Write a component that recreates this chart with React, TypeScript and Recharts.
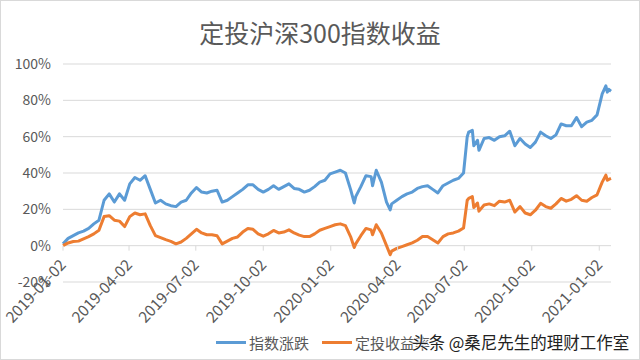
import React from 'react';
import { LineChart, Line, XAxis, YAxis, CartesianGrid } from 'recharts';

const title = '定投沪深300指数收益';
const seriesNames = ['指数涨跌', '定投收益率'];
const seriesColors = ['#5B9BD5', '#ED7D31'];
const watermark = '头条 @桑尼先生的理财工作室';

const dates = [
  '2019-01-02', '2019-01-09', '2019-01-16', '2019-01-23', '2019-01-30', '2019-02-06', '2019-02-13', '2019-02-20',
  '2019-02-27', '2019-03-06', '2019-03-13', '2019-03-20', '2019-03-27', '2019-04-03', '2019-04-10', '2019-04-17',
  '2019-04-24', '2019-05-01', '2019-05-08', '2019-05-15', '2019-05-22', '2019-05-29', '2019-06-05', '2019-06-12',
  '2019-06-19', '2019-06-26', '2019-07-03', '2019-07-10', '2019-07-17', '2019-07-24', '2019-07-31', '2019-08-07',
  '2019-08-14', '2019-08-21', '2019-08-28', '2019-09-04', '2019-09-11', '2019-09-18', '2019-09-25', '2019-10-02',
  '2019-10-09', '2019-10-16', '2019-10-23', '2019-10-30', '2019-11-06', '2019-11-13', '2019-11-20', '2019-11-27',
  '2019-12-04', '2019-12-11', '2019-12-18', '2019-12-25', '2020-01-01', '2020-01-08', '2020-01-15', '2020-01-22',
  '2020-01-29', '2020-02-03', '2020-02-05', '2020-02-12', '2020-02-19', '2020-02-26', '2020-02-28', '2020-03-04',
  '2020-03-11', '2020-03-18', '2020-03-23', '2020-03-25', '2020-04-01', '2020-04-08', '2020-04-15', '2020-04-22',
  '2020-04-29', '2020-05-06', '2020-05-13', '2020-05-20', '2020-05-27', '2020-06-03', '2020-06-10', '2020-06-17',
  '2020-06-24', '2020-07-01', '2020-07-06', '2020-07-08', '2020-07-13', '2020-07-15', '2020-07-20', '2020-07-22',
  '2020-07-29', '2020-08-05', '2020-08-12', '2020-08-19', '2020-08-26', '2020-09-02', '2020-09-09', '2020-09-16',
  '2020-09-23', '2020-09-30', '2020-10-07', '2020-10-14', '2020-10-21', '2020-10-28', '2020-11-04', '2020-11-11',
  '2020-11-18', '2020-11-25', '2020-12-02', '2020-12-09', '2020-12-16', '2020-12-23', '2020-12-30', '2021-01-06',
  '2021-01-11', '2021-01-13', '2021-01-15', '2021-01-18',
];

const indexChange = [
  1, 4, 5.5, 7, 8, 9.5, 12, 14,
  25, 28.5, 24, 28.5, 25, 34, 37.5, 36,
  38.5, 31, 23.5, 25, 23, 22, 21.5, 24,
  25, 29, 32, 29.5, 29, 30, 30.5, 24,
  25, 27, 29, 31, 33.5, 33.5, 31, 29.5,
  31, 33, 31, 32.5, 34, 31.5, 31, 29.5,
  30.5, 32.5, 35, 36, 39.5, 40.5, 41.5, 40,
  31, 23.5, 27, 32.5, 38.5, 38, 33, 41.5,
  35, 24, 19.7, 23, 25, 27, 28.5, 29.5,
  31.5, 32.5, 33, 31, 29, 33, 34.5, 36,
  37, 40, 60, 62.5, 63.5, 55, 58, 52.5,
  59, 59.5, 58, 60, 60.5, 63, 55, 59,
  56, 54, 57, 62.5, 60.5, 59, 61, 67,
  66, 66, 70.5, 65.5, 68, 69, 72, 83.5,
  88, 84.5, 86, 85,
];

const dcaReturn = [
  0, 1.5, 2.3, 2.5, 3.8, 5, 6.5, 8.5,
  16, 16.5, 14, 13.5, 10.5, 16, 18, 17,
  17.5, 11, 5.5, 4.4, 3.3, 2.4, 1, 2,
  4, 6.5, 9, 7, 6, 6, 5.5, 1,
  2.5, 4, 4.8, 7.5, 9.5, 9, 6.5, 5.2,
  6.5, 8.4, 7, 7.5, 8.7, 7, 5.8, 5,
  5, 6.5, 8.5, 9.5, 10.5, 11.5, 12, 11,
  5, -1, 1, 5.5, 9.5, 8.7, 6, 11.5,
  7, 0, -5, -3, -1.5, -0.5, 0.5, 1.5,
  3, 5, 5, 3.3, 1.5, 5, 6.5, 7,
  8, 9.7, 25, 26, 27, 21, 23.5, 19,
  22.4, 23, 22, 24.5, 24, 25, 18.5, 21.5,
  18, 17, 19.5, 23.3, 21.5, 20.6, 23, 26,
  24.5, 25.5, 27.5, 25, 24.5, 26.5, 28, 35,
  38.8, 36, 36.5, 37,
];

const xTickLabels = [
  '2019-01-02', '2019-04-02', '2019-07-02', '2019-10-02', '2020-01-02',
  '2020-04-02', '2020-07-02', '2020-10-02', '2021-01-02',
];
const yTicks = [-20, 0, 20, 40, 60, 80, 100];

const toTs = (s: string) => Date.parse(s + 'T00:00:00Z');
const fmtDate = (v: number) => new Date(v).toISOString().slice(0, 10);

const data = dates.map((d, i) => ({ t: toTs(d), a: indexChange[i], b: dcaReturn[i] }));
const xTicks = xTickLabels.map(toTs);

const W = 640;
const H = 360;
const X_AXIS_H = 2;
const M = { top: 64, right: 29, bottom: 78 - X_AXIS_H, left: 0 };
const Y_MIN = -20;
const Y_MAX = 100;
const plotH = H - M.top - M.bottom - X_AXIS_H;
const zeroOffset = (plotH * (0 - Y_MIN)) / (Y_MAX - Y_MIN);

const FONT = "'Noto Sans CJK SC', 'Noto Sans', sans-serif";
const GRID = '#d9d9d9';
const TEXT = '#595959';

function XTick(props: any) {
  const { x, y, payload } = props;
  const y0 = y - zeroOffset;
  const tx = x + 4;
  const ty = y0 + 20;
  return (
    <g>
      <line x1={x} x2={x} y1={y0} y2={y0 + 5} stroke={GRID} />
      <text
        x={tx}
        y={ty}
        transform={`rotate(-47 ${tx} ${ty})`}
        textAnchor="end"
        fill={TEXT}
        fontSize={15.5}
        fontFamily={FONT}
      >
        {fmtDate(payload.value)}
      </text>
    </g>
  );
}

export default function App() {
  return (
    <div
      style={{
        position: 'absolute',
        left: 0,
        top: 0,
        width: W,
        height: H,
        background: '#fff',
        fontFamily: FONT,
        overflow: 'hidden',
      }}
    >
      <div
        style={{
          position: 'absolute',
          top: 17,
          left: 0,
          width: W,
          textAlign: 'center',
          fontSize: 25,
          lineHeight: '30px',
          color: TEXT,
        }}
      >
        {title}
      </div>
      <LineChart width={W} height={H} data={data} margin={M}>
        <CartesianGrid horizontal vertical={false} stroke={GRID} />
        <XAxis
          dataKey="t"
          type="number"
          domain={['dataMin', 'dataMax']}
          ticks={xTicks}
          interval={0}
          height={X_AXIS_H}
          tickSize={0}
          tickMargin={0}
          axisLine={false}
          tickLine={false}
          tick={(p: any) => <XTick {...p} />}
        />
        <YAxis
          width={63}
          domain={[Y_MIN, Y_MAX]}
          ticks={yTicks}
          interval={0}
          axisLine={false}
          tickLine={false}
          tickMargin={6}
          tickFormatter={(v: number) => `${v}%`}
          tick={{ fill: TEXT, fontSize: 14, fontFamily: FONT }}
        />
        <Line
          type="linear"
          dataKey="a"
          name={seriesNames[0]}
          stroke={seriesColors[0]}
          strokeWidth={3}
          dot={false}
          isAnimationActive={false}
          strokeLinejoin="round"
        />
        <Line
          type="linear"
          dataKey="b"
          name={seriesNames[1]}
          stroke={seriesColors[1]}
          strokeWidth={3}
          dot={false}
          isAnimationActive={false}
          strokeLinejoin="round"
        />
      </LineChart>
      <div
        style={{
          position: 'absolute',
          left: 216,
          top: 332,
          height: 20,
          display: 'flex',
          alignItems: 'center',
          fontSize: 15,
          color: TEXT,
        }}
      >
        {seriesNames.map((n, i) => (
          <div key={n} style={{ display: 'flex', alignItems: 'center', marginRight: 13 }}>
            <div style={{ width: 30, height: 3, background: seriesColors[i], marginRight: 3 }} />
            <span>{n}</span>
          </div>
        ))}
      </div>
      <div
        style={{
          position: 'absolute',
          left: 412,
          top: 331,
          fontSize: 16.5,
          lineHeight: '22px',
          color: '#222',
          whiteSpace: 'nowrap',
          textShadow: '0 0 2px #fff, 0 0 2px #fff, 0 0 2px #fff',
        }}
      >
        {watermark}
      </div>
      <div
        style={{
          position: 'absolute',
          left: 0,
          top: 0,
          width: W,
          height: H,
          boxSizing: 'border-box',
          border: `1px solid ${GRID}`,
          pointerEvents: 'none',
        }}
      />
    </div>
  );
}
